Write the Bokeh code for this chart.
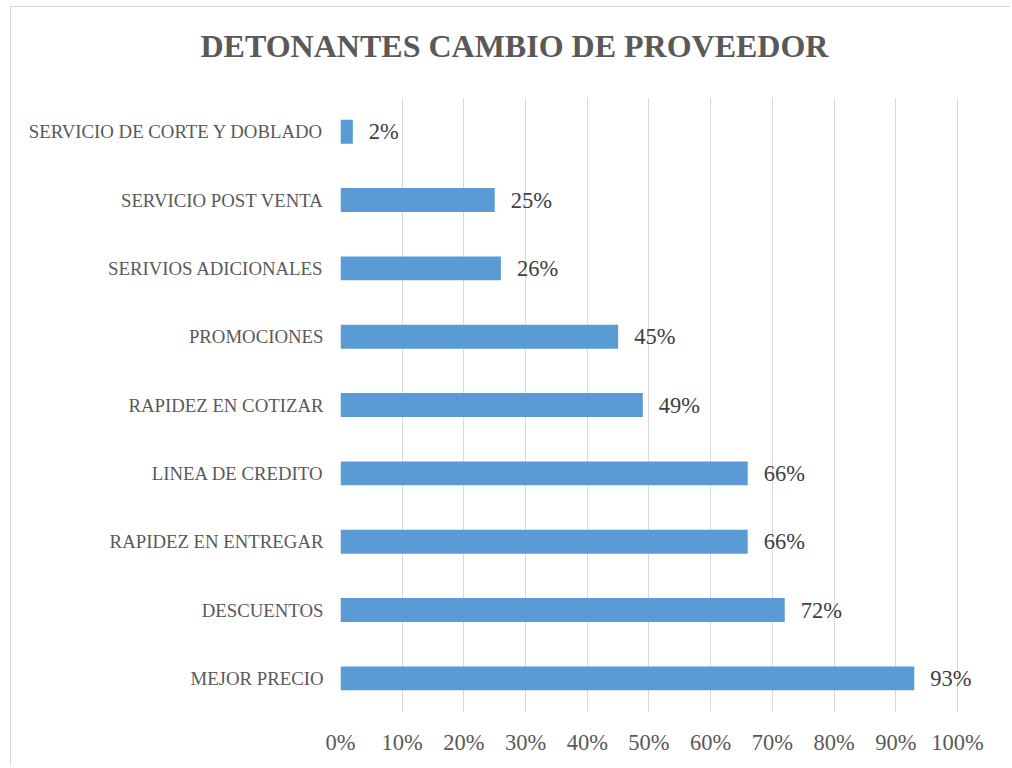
from bokeh.plotting import figure
from bokeh.models import Range1d, FactorRange, FixedTicker, ColumnDataSource, Title, LabelSet
from bokeh.embed import file_html
from bokeh.resources import INLINE

# Data (top-to-bottom order as shown in chart)
categories = ["SERVICIO DE CORTE Y DOBLADO", "SERVICIO POST VENTA", "SERIVIOS ADICIONALES",
              "PROMOCIONES", "RAPIDEZ EN COTIZAR", "LINEA DE CREDITO",
              "RAPIDEZ EN ENTREGAR", "DESCUENTOS", "MEJOR PRECIO"]
values = [2, 25, 26, 45, 49, 66, 66, 72, 93]
value_labels = ["2%", "25%", "26%", "45%", "49%", "66%", "66%", "72%", "93%"]
tick_values = [0, 10, 20, 30, 40, 50, 60, 70, 80, 90, 100]
tick_labels = ["0%", "10%", "20%", "30%", "40%", "50%", "60%", "70%", "80%", "90%", "100%"]
title_text = "DETONANTES CAMBIO DE PROVEEDOR"

FONT = "Liberation Serif"

src = ColumnDataSource(dict(cat=categories, val=values, lab=value_labels))

p = figure(width=1000, height=760, output_backend="svg", toolbar_location=None,
           y_range=FactorRange(factors=list(reversed(categories))),
           x_range=Range1d(0, 105.35),
           min_border_left=329, min_border_right=21, min_border_top=90, min_border_bottom=55)

# spacer panel between frame and title
p.add_layout(Title(text=" ", text_font_size="1px", standoff=17), "above")
p.add_layout(Title(text=title_text, align="left", offset=-140, vertical_align="top",
                   text_font=FONT, text_font_size="32px", text_font_style="bold",
                   text_color="#595959", standoff=24), "above")

p.hbar(y="cat", right="val", left=0, height=0.35, source=src,
       fill_color="#5B9BD5", line_color=None)

labels = LabelSet(x="val", y="cat", text="lab", source=src, x_offset=16,
                  text_align="left", text_baseline="middle",
                  text_font=FONT, text_font_size="22.5px", text_color="#404040")
p.add_layout(labels)

p.outline_line_color = None
p.background_fill_color = "white"
p.border_fill_color = "white"

p.xgrid.grid_line_color = "#d9d9d9"
p.xgrid.grid_line_width = 1
p.xgrid.ticker = FixedTicker(ticks=tick_values)
p.ygrid.grid_line_color = None

p.xaxis.ticker = FixedTicker(ticks=tick_values)
p.xaxis.major_label_overrides = {t: l for t, l in zip(tick_values, tick_labels)}
p.xaxis.axis_line_color = None
p.xaxis.major_tick_line_color = None
p.xaxis.minor_tick_line_color = None
p.xaxis.major_tick_out = 0
p.xaxis.major_label_standoff = 17
p.xaxis.major_label_text_font = FONT
p.xaxis.major_label_text_font_size = "22.5px"
p.xaxis.major_label_text_color = "#595959"

p.yaxis.axis_line_color = None
p.yaxis.major_tick_line_color = None
p.yaxis.minor_tick_line_color = None
p.yaxis.major_tick_out = 0
p.yaxis.major_label_standoff = 17
p.yaxis.major_label_text_font = FONT
p.yaxis.major_label_text_font_size = "18.8px"
p.yaxis.major_label_text_color = "#595959"

p.styles = {"border-left": "1px solid #d9d9d9", "border-top": "1px solid #d9d9d9",
            "margin-left": "10px", "margin-top": "6px"}

open("out.html", "w").write(file_html(p, INLINE))
